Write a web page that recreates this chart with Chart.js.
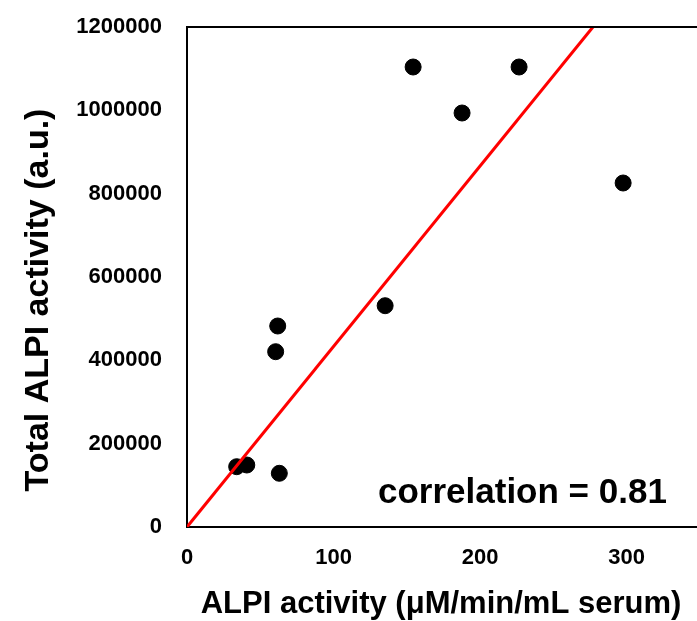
<!DOCTYPE html>
<html>
<head>
<meta charset="utf-8">
<script src="https://cdn.jsdelivr.net/npm/chart.js@4"></script>
<style>
  html, body { margin: 0; padding: 0; background: #fff; }
  #wrap { width: 697px; height: 621px; }
</style>
</head>
<body>
<div id="wrap"><canvas id="c" width="697" height="621"></canvas></div>
<script>
// serum ALPI activity vs total ALPI activity
const ALPI_serum = [33.9, 40.8, 63.0, 60.5, 61.9, 135.2, 154.3, 187.7, 226.6, 297.6];
const ALPI_total = [144700, 148800, 128900, 420700, 482400, 531100, 1104000, 993600, 1104000, 825600];

// red fit line through origin
const fitX = [0, 277];
const fitY = [0, 1200000];

const xTicks = [0, 100, 200, 300];
const yTicks = [0, 200000, 400000, 600000, 800000, 1000000, 1200000];

const xTitle = "ALPI activity (\u03bcM/min/mL serum)";
const yTitle = "Total ALPI activity (a.u.)";
const note = "correlation = 0.81";

const FONT = "'Liberation Sans', Arial, sans-serif";

const points = ALPI_serum.map((x, i) => ({ x: x, y: ALPI_total[i] }));
const fit = fitX.map((x, i) => ({ x: x, y: fitY[i] }));

// top frame line, titles + correlation note
const textPlugin = {
    id: "texts",
    afterDraw(chart) {
        const ctx = chart.ctx;
        const a = chart.chartArea;
        ctx.save();
        ctx.strokeStyle = "#000";
        ctx.lineWidth = 2;
        ctx.beginPath();
        ctx.moveTo(a.left - 1, a.top);
        ctx.lineTo(a.right, a.top);
        ctx.stroke();

        ctx.fillStyle = "#000";
        ctx.font = "bold 31px " + FONT;
        ctx.textAlign = "center";
        ctx.textBaseline = "middle";
        ctx.fillText(xTitle, 441, 604);

        ctx.translate(39, 300);
        ctx.rotate(-Math.PI / 2);
        ctx.font = "bold 34px " + FONT;
        ctx.fillText(yTitle, 0, 0);
        ctx.restore();

        ctx.save();
        ctx.fillStyle = "#000";
        ctx.font = "bold 35px " + FONT;
        ctx.textAlign = "left";
        ctx.textBaseline = "alphabetic";
        ctx.fillText(note, 378, 503);
        ctx.restore();
    }
};

const ctx = document.getElementById("c").getContext("2d");
new Chart(ctx, {
    data: {
        datasets: [
            {
                type: "line",
                data: fit,
                borderColor: "#ff0000",
                borderWidth: 3,
                pointRadius: 0,
                fill: false,
                order: 0
            },
            {
                type: "scatter",
                data: points,
                backgroundColor: "#000",
                borderColor: "#000",
                pointRadius: 8,
                order: 1
            }
        ]
    },
    options: {
        responsive: false,
        animation: false,
        layout: { autoPadding: false, padding: { top: 27, left: 0, right: 0, bottom: 0 } },
        plugins: {
            legend: { display: false },
            tooltip: { enabled: false }
        },
        scales: {
            x: {
                type: "linear",
                position: "bottom",
                min: 0,
                max: 348,
                afterBuildTicks: s => { s.ticks = xTicks.map(v => ({ value: v })); },
                afterFit: s => { s.height = 94; },
                grid: { display: false, drawTicks: false },
                border: { display: true, color: "#000", width: 2 },
                ticks: {
                    padding: 18,
                    color: "#000",
                    font: { family: FONT, size: 22, weight: "bold" }
                }
            },
            y: {
                type: "linear",
                min: 0,
                max: 1200000,
                afterBuildTicks: s => { s.ticks = yTicks.map(v => ({ value: v })); },
                afterFit: s => { s.width = 187; s.paddingTop = 0; s.paddingBottom = 0; },
                grid: { display: false, drawTicks: false },
                border: { display: true, color: "#000", width: 2 },
                ticks: {
                    padding: 25,
                    color: "#000",
                    font: { family: FONT, size: 22, weight: "bold" },
                    callback: v => String(v)
                }
            }
        }
    },
    plugins: [textPlugin]
});
</script>
</body>
</html>
